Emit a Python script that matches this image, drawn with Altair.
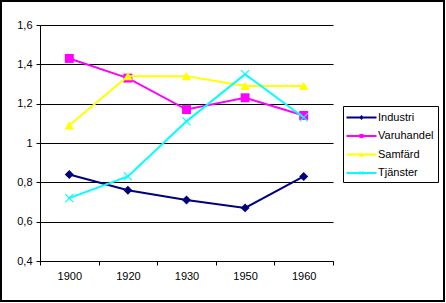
import altair as alt
import pandas as pd

years = ["1900", "1920", "1930", "1950", "1960"]
series = ["Industri", "Varuhandel", "Samfärd", "Tjänster"]
industri = [0.84, 0.76, 0.71, 0.67, 0.83]
varuhandel = [1.43, 1.33, 1.17, 1.23, 1.14]
samfard = [1.09, 1.34, 1.34, 1.29, 1.29]
tjanster = [0.72, 0.83, 1.11, 1.35, 1.13]
y_ticks = [0.4, 0.6, 0.8, 1.0, 1.2, 1.4, 1.6]

colors = ["#000080", "#FF00FF", "#FFFF00", "#00FFFF"]
plot_shapes = ["diamond", "square", "triangle-up", "M-1,-1L1,1M-1,1L1,-1"]
plot_sizes = [80, 80, 90, 64]
LINE = "M-2,-0.13L2,-0.13L2,0.13L-2,0.13Z "
legend_paths = [
    LINE + "M-0.32,0L0,-0.32L0.32,0L0,0.32Z",
    LINE + "M-0.28,-0.28L0.28,-0.28L0.28,0.28L-0.28,0.28Z",
    LINE + "M-0.34,0.3L0,-0.34L0.34,0.3Z",
    LINE + "M-0.3,-0.24L-0.24,-0.3L0.3,0.24L0.24,0.3Z M-0.3,0.24L0.24,-0.3L0.3,-0.24L-0.24,0.3Z",
]

values = [industri, varuhandel, samfard, tjanster]
rows = []
for s, vals in zip(series, values):
    for yr, v in zip(years, vals):
        rows.append({"År": yr, "Serie": s, "Värde": v})
df = pd.DataFrame(rows)

FONT = "Liberation Sans"

x_enc = alt.X(
    "År:N",
    sort=years,
    bandPosition=0.5,
    scale=alt.Scale(type="band", domain=years, paddingInner=0, paddingOuter=0),
    axis=alt.Axis(
        title=None, labelAngle=0, tickBand="extent", tickSize=4,
        labelPadding=5, grid=False, domainColor="black", tickColor="black",
    ),
)
y_enc = alt.Y(
    "Värde:Q",
    scale=alt.Scale(domain=[0.4, 1.6], nice=False, zero=False),
    axis=alt.Axis(
        title=None, values=y_ticks, format="~g",
        labelExpr="replace(datum.label, '.', ',')",
        tickSize=4, labelPadding=4, grid=True, gridColor="black",
        gridWidth=1, gridOpacity=1, domainColor="black", tickColor="black",
    ),
)

base = alt.Chart(df)
layers = []
for s, c, shp, sz in zip(series, colors, plot_shapes, plot_sizes):
    sub = base.transform_filter(alt.datum.Serie == s)
    layers.append(sub.mark_line(color=c, strokeWidth=2).encode(x=x_enc, y=y_enc))
    if shp.startswith("M"):
        pm = sub.mark_point(shape=shp, color=c, filled=False, size=sz, strokeWidth=1.2, opacity=1)
    else:
        pm = sub.mark_point(shape=shp, color=c, filled=True, size=sz, opacity=1)
    layers.append(pm.encode(x=x_enc, y=y_enc))

legend_props = dict(
    title=None, orient="none", legendX=303, legendY=81,
    strokeColor="black", fillColor="white", padding=4,
    labelFont=FONT, labelFontSize=11, labelColor="black",
    rowPadding=5.5, labelOffset=9, symbolOffset=7, symbolSize=225,
    symbolStrokeWidth=0, labelExpr="datum.label + '\u00a0\u00a0\u00a0'",
)

legend_layer = base.transform_filter("datum.Värde < 0").mark_point(
    filled=True, size=225, opacity=1
).encode(
    color=alt.Color(
        "Serie:N",
        scale=alt.Scale(domain=series, range=colors),
        legend=alt.Legend(**legend_props),
    ),
    shape=alt.Shape(
        "Serie:N",
        scale=alt.Scale(domain=series, range=legend_paths),
        legend=alt.Legend(**legend_props),
    ),
)

border = alt.Chart(pd.DataFrame({"a": [0]})).mark_rect(
    fill=None, stroke="black", strokeWidth=2
).encode(x=alt.value(-39), x2=alt.value(404), y=alt.value(-24), y2=alt.value(276))

chart = alt.layer(*layers, legend_layer, border).properties(
    width=293, height=236,
    autosize=alt.AutoSizeParams(type="none"),
    padding={"left": 40, "top": 25, "right": 113, "bottom": 42},
    background="white",
).configure_view(stroke=None).configure_axis(
    labelFont=FONT, labelFontSize=11, labelColor="black"
)

chart.save("out.html", embed_options={"renderer": "svg", "actions": False})
